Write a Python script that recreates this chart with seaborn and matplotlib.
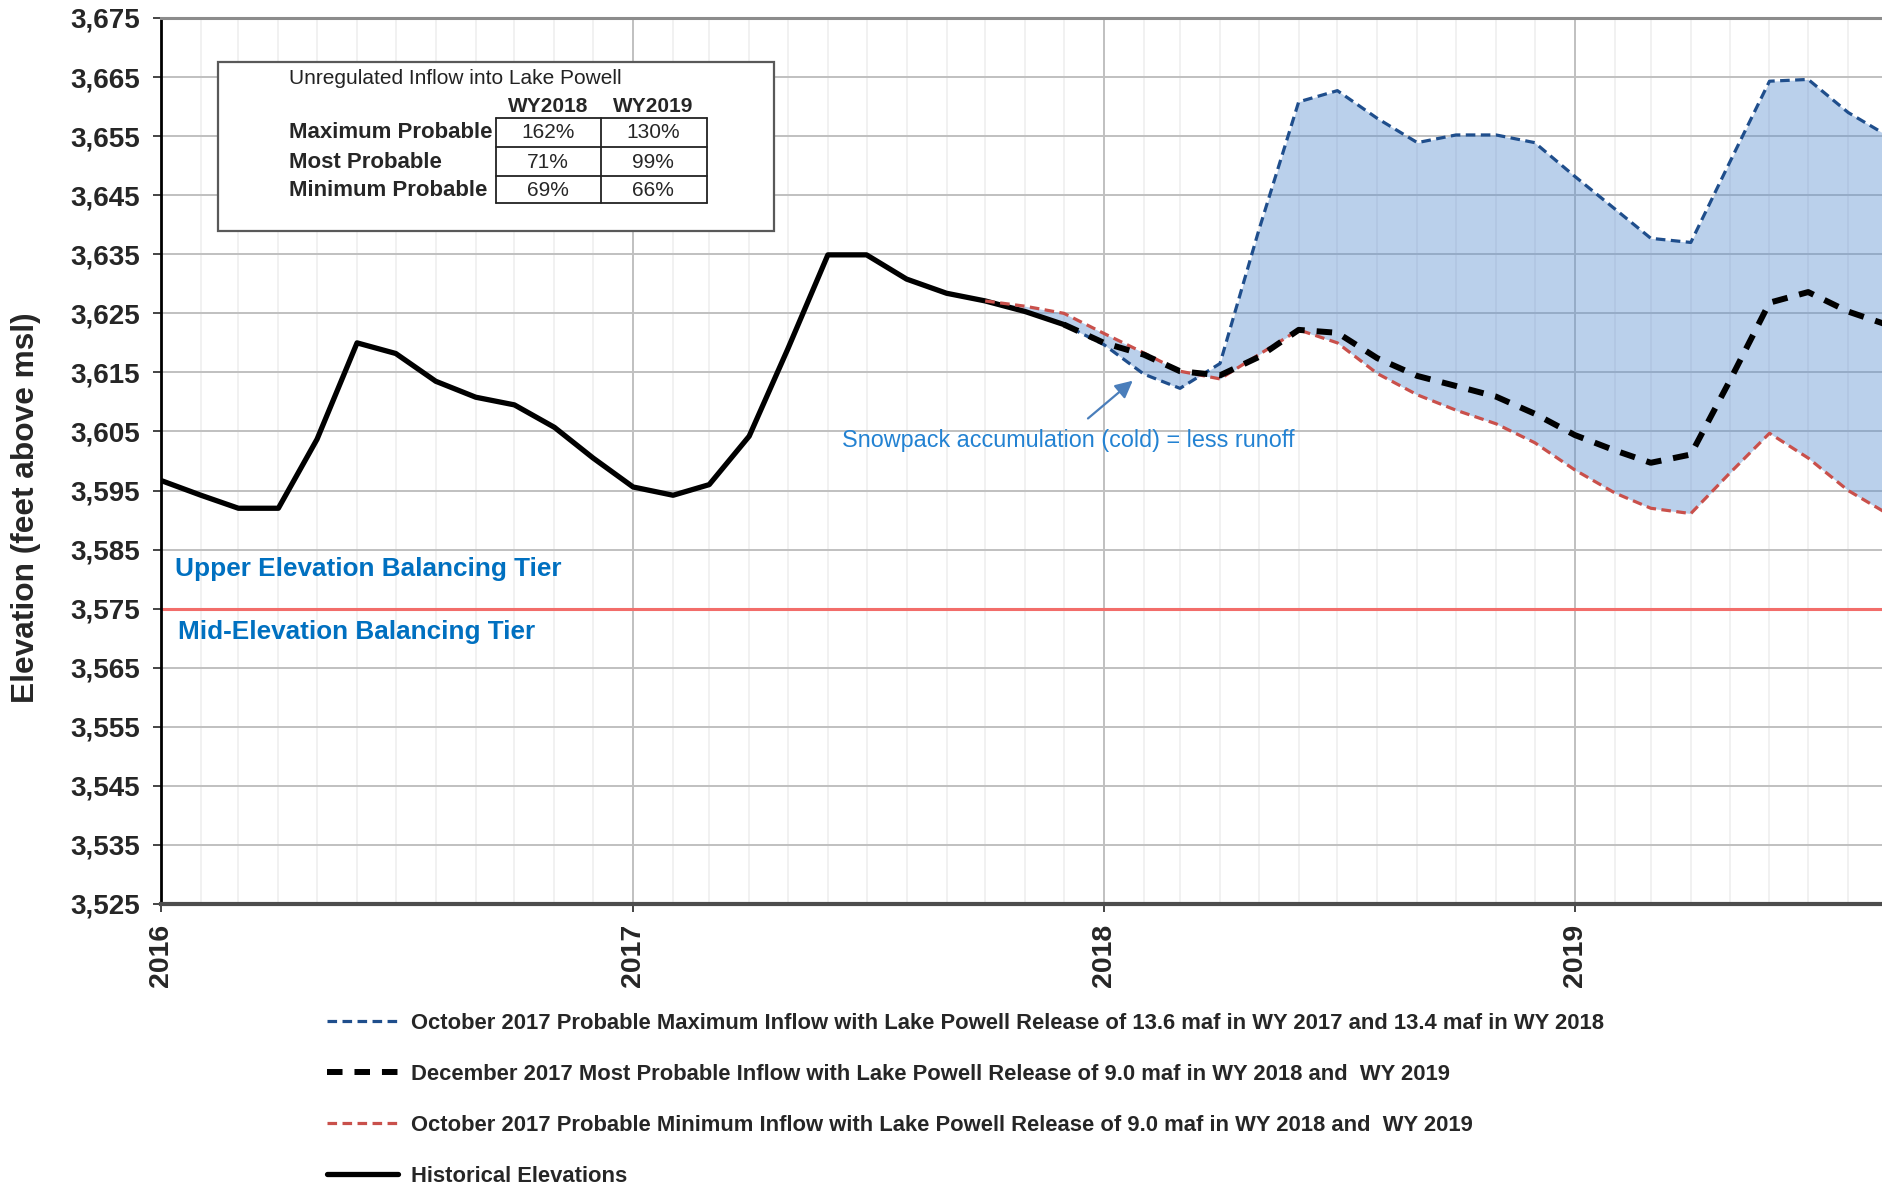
import numpy as np
import pandas as pd
import matplotlib
matplotlib.use("Agg")
import matplotlib.pyplot as plt
import matplotlib.dates as mdates
from matplotlib.patches import Rectangle
from matplotlib.lines import Line2D
from matplotlib.ticker import FuncFormatter
import seaborn as sns

# ---- data (elevations in feet above msl, first of each month) ----
hist_months = pd.date_range("2016-01-01", "2017-12-01", freq="MS")
hist_elev = [3596.7, 3594.2, 3592.0, 3592.0, 3603.7, 3620.0, 3618.2, 3613.5,
             3610.8, 3609.5, 3605.7, 3600.5, 3595.6, 3594.2, 3596.0, 3604.2,
             3619.0, 3634.9, 3634.9, 3630.8, 3628.4, 3627.1, 3625.3, 3623.1]

oct_months = pd.date_range("2017-10-01", "2019-09-01", freq="MS")
max_elev = [3627.1, 3625.3, 3623.1, 3619.7, 3614.7, 3612.3, 3616.5, 3639.0,
            3660.8, 3662.7, 3658.0, 3653.9, 3655.2, 3655.2, 3653.9, 3648.2,
            3642.7, 3637.7, 3637.0, 3650.5, 3664.3, 3664.6, 3659.0, 3655.0]
min_elev = [3627.1, 3626.2, 3625.0, 3621.6, 3618.3, 3615.2, 3613.9, 3618.0,
            3622.2, 3620.0, 3614.8, 3611.2, 3608.6, 3606.3, 3603.1, 3598.5,
            3594.6, 3592.0, 3591.1, 3597.9, 3604.7, 3600.5, 3595.0, 3591.0]

dec_months = pd.date_range("2017-12-01", "2019-09-01", freq="MS")
most_elev = [3623.1, 3620.0, 3618.0, 3615.2, 3614.5, 3617.6, 3622.2, 3621.7,
             3617.4, 3614.4, 3612.7, 3610.9, 3608.0, 3604.4, 3601.8, 3599.7,
             3601.1, 3613.5, 3626.8, 3628.6, 3625.3, 3623.0]

tier_elev = 3575

lbl_max = "October 2017 Probable Maximum Inflow with Lake Powell Release of 13.6 maf in WY 2017 and 13.4 maf in WY 2018"
lbl_most = "December 2017 Most Probable Inflow with Lake Powell Release of 9.0 maf in WY 2018 and  WY 2019"
lbl_min = "October 2017 Probable Minimum Inflow with Lake Powell Release of 9.0 maf in WY 2018 and  WY 2019"
lbl_hist = "Historical Elevations"

table_title = "Unregulated Inflow into Lake Powell"
table_cols = ["WY2018", "WY2019"]
table_rows = ["Maximum Probable", "Most Probable", "Minimum Probable"]
wy2018 = ["162%", "71%", "69%"]
wy2019 = ["130%", "99%", "66%"]

# ---- figure ----
W, H = 1883, 1189
sns.set_theme(style="white")
plt.rcParams["font.family"] = ["Liberation Sans", "DejaVu Sans"]

fig = plt.figure(figsize=(W / 100, H / 100), dpi=100)


def fx(px):
    return px / W


def fy(py):
    return 1 - py / H


ax = fig.add_axes([fx(161), fy(904), 1 - fx(161), fy(18) - fy(904)])

ax.fill_between(oct_months, min_elev, max_elev, color="#5b8fd0", alpha=0.42, lw=0, zorder=1)
sns.lineplot(x=oct_months, y=max_elev, ax=ax, color="#1f4e8c", lw=2.3,
             linestyle=(0, (3, 1.7)), label=lbl_max, zorder=3)
sns.lineplot(x=hist_months, y=hist_elev, ax=ax, color="black", lw=3.8,
             label=lbl_hist, zorder=4)
sns.lineplot(x=oct_months, y=min_elev, ax=ax, color="#c9504b", lw=2.3,
             linestyle=(0, (3, 1.7)), label=lbl_min, zorder=5)
sns.lineplot(x=dec_months, y=most_elev, ax=ax, color="black", lw=4.3,
             linestyle=(0, (2.6, 2.0)), label=lbl_most, zorder=6)
if ax.get_legend() is not None:
    ax.get_legend().remove()

ax.axhline(tier_elev, color="#f26d6a", lw=2.2, zorder=2)

# axes
ax.set_ylim(3525, 3675)
ax.set_yticks(np.arange(3525, 3676, 10))
ax.yaxis.set_major_formatter(FuncFormatter(lambda v, p: f"{v:,.0f}"))
ax.set_xlim(pd.Timestamp("2016-01-01"), pd.Timestamp("2019-08-28"))
ax.xaxis.set_major_locator(mdates.YearLocator())
ax.xaxis.set_major_formatter(mdates.DateFormatter("%Y"))
ax.xaxis.set_minor_locator(mdates.MonthLocator(bymonth=range(2, 13)))
ax.set_xlabel("")
ax.set_ylabel("Elevation (feet above msl)", fontsize=22.8, fontweight="bold", va="center")
ax.yaxis.set_label_coords(-0.0782, 0.447)

ax.grid(axis="y", which="major", color="#c0c0c0", lw=1.4)
ax.grid(axis="x", which="major", color="#c0c0c0", lw=1.4)
ax.grid(axis="x", which="minor", color="#ededed", lw=1.1)
ax.set_axisbelow(True)

ax.tick_params(axis="y", which="major", left=True, length=6, width=1.4, color="#444",
               pad=9, labelsize=20)
ax.tick_params(axis="x", which="major", bottom=True, length=6, width=1.4, color="#444",
               pad=8, labelsize=20.5, labelrotation=90)
ax.tick_params(axis="x", which="minor", bottom=False)
for t in ax.get_yticklabels() + ax.get_xticklabels():
    t.set_fontweight("bold")

ax.spines["right"].set_visible(False)
ax.spines["left"].set_color("black")
ax.spines["left"].set_linewidth(2.0)
ax.spines["bottom"].set_color("#4d4d4d")
ax.spines["bottom"].set_linewidth(3.0)
ax.spines["top"].set_color("#8c8c8c")
ax.spines["top"].set_linewidth(2.2)

# tier labels and note
ax.text(pd.Timestamp("2016-01-12"), 3581.7, "Upper Elevation Balancing Tier", color="#0070c0",
        fontsize=18.8, fontweight="bold", ha="left", va="center")
ax.text(pd.Timestamp("2016-01-14"), 3571.1, "Mid-Elevation Balancing Tier", color="#0070c0",
        fontsize=18.8, fontweight="bold", ha="left", va="center")
ax.text(pd.Timestamp("2017-06-12"), 3603.4, "Snowpack accumulation (cold) = less runoff",
        color="#2382d2", fontsize=16.8, ha="left", va="center")
ax.annotate("", xy=(pd.Timestamp("2018-01-25"), 3613.9), xytext=(pd.Timestamp("2017-12-18"), 3606.9),
            arrowprops=dict(arrowstyle="-|>", color="#4a7ebb", lw=1.6, mutation_scale=26))

# inflow table box
fig.add_artist(Rectangle((fx(218), fy(231)), fx(774) - fx(218), fy(62) - fy(231),
                         transform=fig.transFigure, facecolor="white", edgecolor="#595959",
                         lw=1.6, zorder=10))
fig.text(fx(289), fy(78), table_title, fontsize=15, color="#222", ha="left", va="center", zorder=11)
col_x = [548, 653]
for cx, c in zip(col_x, table_cols):
    fig.text(fx(cx), fy(106), c, fontsize=15, fontweight="bold", ha="center", va="center", zorder=11)
row_y = [133, 162, 190]
for ry, r, a, b in zip(row_y, table_rows, wy2018, wy2019):
    fig.text(fx(289), fy(ry), r, fontsize=16, fontweight="bold", ha="left", va="center", zorder=11)
    fig.text(fx(col_x[0]), fy(ry), a, fontsize=15, ha="center", va="center", zorder=11)
    fig.text(fx(col_x[1]), fy(ry), b, fontsize=15, ha="center", va="center", zorder=11)
for gx in [496, 601, 707]:
    fig.add_artist(Line2D([fx(gx), fx(gx)], [fy(118), fy(203)], transform=fig.transFigure,
                          color="#222", lw=1.3, zorder=11))
for gy in [118, 147, 176, 203]:
    fig.add_artist(Line2D([fx(496), fx(707)], [fy(gy), fy(gy)], transform=fig.transFigure,
                          color="#222", lw=1.3, zorder=11))

# legend below the plot
handles, labels = ax.get_legend_handles_labels()
order = [lbl_max, lbl_most, lbl_min, lbl_hist]
hmap = dict(zip(labels, handles))
fig.legend([hmap[k] for k in order], order, loc="upper left", bbox_to_anchor=(fx(327), fy(1013)),
           frameon=False, borderpad=0, borderaxespad=0, handlelength=3.25, handletextpad=0.57,
           labelspacing=1.36, prop={"size": 15.8, "weight": "bold"})

fig.savefig("out.png", dpi=100)
